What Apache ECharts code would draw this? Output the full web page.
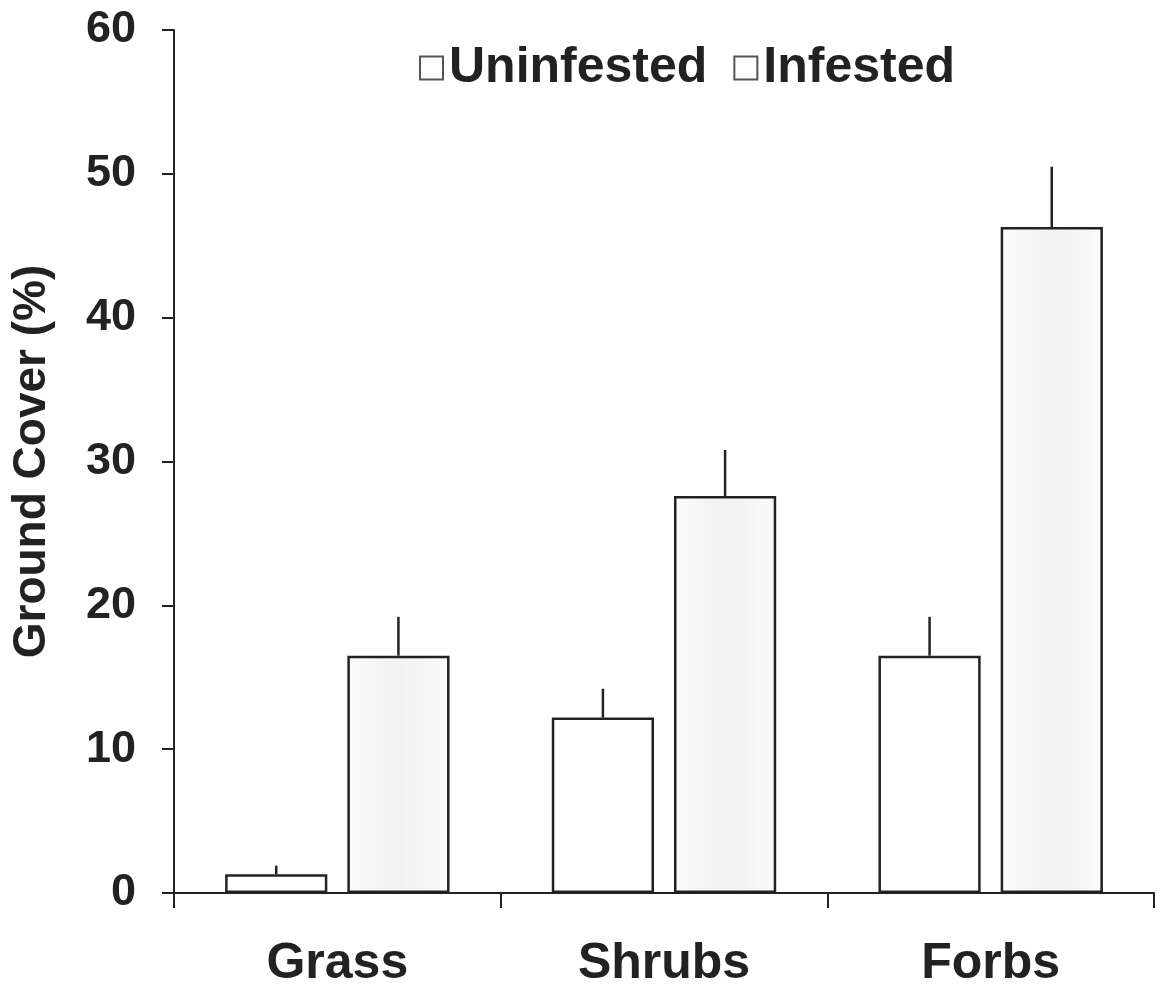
<!DOCTYPE html>
<html>
<head>
<meta charset="utf-8">
<script src="https://cdn.jsdelivr.net/npm/echarts@6/dist/echarts.min.js"></script>
<style>html,body{margin:0;padding:0;background:#fff;}#c{width:1157px;height:990px;}</style>
</head>
<body>
<div id="c"></div>
<script>
var categories = ['Grass', 'Shrubs', 'Forbs'];
var uninfested = [1.3, 12.2, 16.5];
var uninfestedErr = [0.6, 2.0, 2.7];
var infested = [16.5, 27.6, 46.3];
var infestedErr = [2.7, 3.2, 4.2];
var yTicks = [0, 10, 20, 30, 40, 50, 60];

var chart = echarts.init(document.getElementById('c'));
var BAR_FRAC = 0.313, GAP_FRAC = 0.061;
function errSeries(vals, errs, sign) {
  return {
    type: 'custom',
    silent: true,
    z: 5,
    renderItem: function (params, api) {
      var idx = api.value(0);
      var top = api.coord([idx, api.value(1)]);
      var end = api.coord([idx, api.value(1) + api.value(2)]);
      var band = api.size([1, 0])[0];
      var off = sign * (band * BAR_FRAC + band * GAP_FRAC) / 2;
      return {
        type: 'line',
        shape: {x1: top[0] + off, y1: top[1], x2: end[0] + off, y2: end[1]},
        style: {stroke: '#222', lineWidth: 2.5}
      };
    },
    data: vals.map(function (v, i) { return [i, v, errs[i]]; })
  };
}
var font = '"Liberation Sans", Arial, sans-serif';
chart.setOption({
  animation: false,
  backgroundColor: '#fff',
  grid: {left: 174, right: 3, top: 30, bottom: 97},
  legend: {
    top: 38, left: 414,
    itemWidth: 23, itemHeight: 23, itemGap: 26,
    icon: 'rect',
    textStyle: {fontFamily: font, fontSize: 50, fontWeight: 'bold', color: '#222', padding: [0, 0, 0, 1]},
    data: [
      {name: 'Uninfested', itemStyle: {color: '#fff', borderColor: '#555', borderWidth: 2}},
      {name: 'Infested', itemStyle: {color: '#fff', borderColor: '#555', borderWidth: 2}}
    ]
  },
  xAxis: {
    type: 'category',
    data: categories,
    axisLine: {lineStyle: {color: '#222', width: 2}},
    axisTick: {show: true, alignWithLabel: false, interval: 0, length: 15, lineStyle: {color: '#222', width: 2}},
    axisLabel: {fontFamily: font, fontSize: 50, fontWeight: 'bold', color: '#222', margin: 46}
  },
  yAxis: {
    type: 'value', min: yTicks[0], max: yTicks[yTicks.length - 1], interval: 10,
    name: 'Ground Cover (%)', nameLocation: 'middle', nameGap: 119, nameRotate: 90,
    nameTextStyle: {fontFamily: font, fontSize: 46, fontWeight: 'bold', color: '#222'},
    splitLine: {show: false},
    axisLine: {show: true, lineStyle: {color: '#222', width: 2}},
    axisTick: {show: true, length: 12, lineStyle: {color: '#222', width: 2}},
    axisLabel: {fontFamily: font, fontSize: 45, fontWeight: 'bold', color: '#222', margin: 38}
  },
  series: [
    {name: 'Uninfested', type: 'bar', data: uninfested, barGap: '19.6%', barCategoryGap: '31.3%',
     itemStyle: {color: '#fff', borderColor: '#222', borderWidth: 2.5}},
    {name: 'Infested', type: 'bar', data: infested, barGap: '19.6%', barCategoryGap: '31.3%',
     itemStyle: {color: {type: 'linear', x: 0, y: 0, x2: 1, y2: 0, colorStops: [
       {offset: 0, color: '#fcfcfc'}, {offset: 0.5, color: '#f1f1f1'}, {offset: 1, color: '#fbfbfb'}]},
       borderColor: '#222', borderWidth: 2.5}},
    errSeries(uninfested, uninfestedErr, -1),
    errSeries(infested, infestedErr, 1)
  ]
});
</script>
</body>
</html>
